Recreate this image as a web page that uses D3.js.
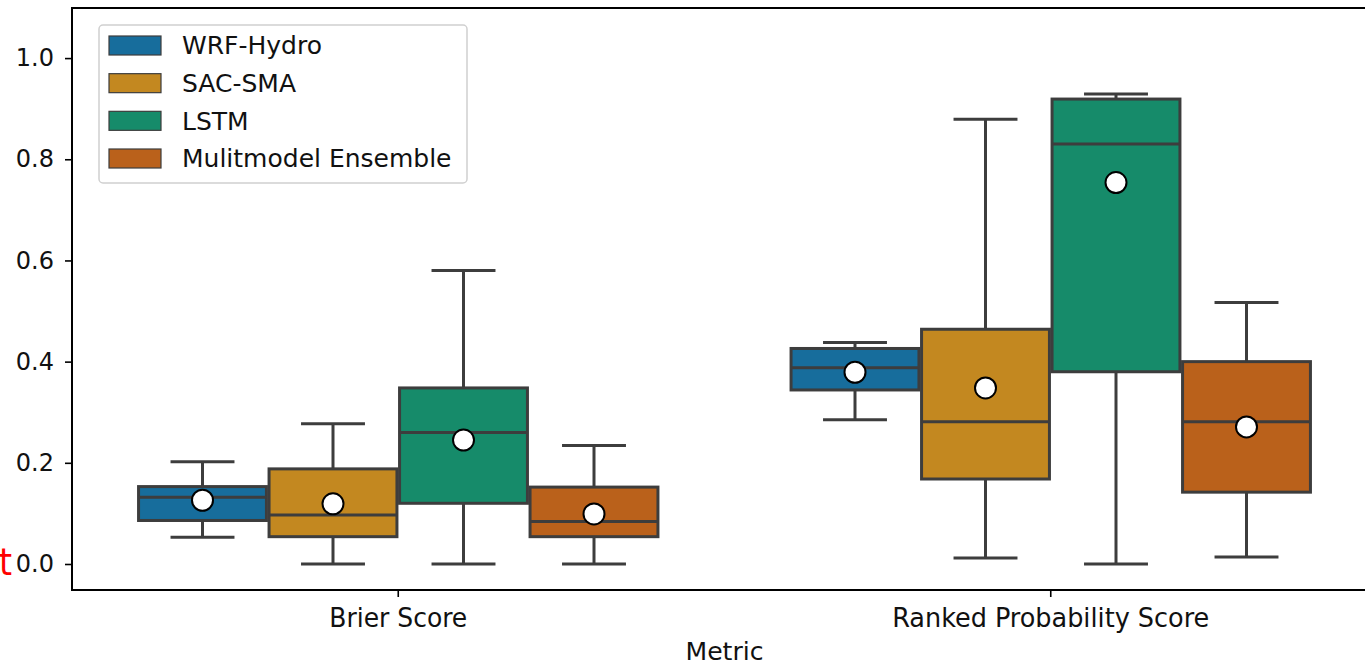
<!DOCTYPE html>
<html>
<head>
<meta charset="utf-8">
<script src="https://cdn.jsdelivr.net/npm/d3@7"></script>
<style>
  body { margin: 0; background: #fff; }
  svg { display: block; }
  text { font-family: "DejaVu Sans", sans-serif; }
</style>
</head>
<body>
<svg id="canvas"></svg>
<script>
// categories
let metrics = ["Brier Score", "Ranked Probability Score"];
let models = ["WRF-Hydro", "SAC-SMA", "LSTM", "Mulitmodel Ensemble"];
let yTicks = [0.0, 0.2, 0.4, 0.6, 0.8, 1.0];

// box stats, [metric][model]
let whiskerLow  = [[0.053, 0.000, 0.000, 0.000], [0.285, 0.012, 0.000, 0.014]];
let q1          = [[0.086, 0.054, 0.120, 0.054], [0.344, 0.168, 0.380, 0.142]];
let median      = [[0.132, 0.097, 0.260, 0.084], [0.388, 0.281, 0.830, 0.281]];
let q3          = [[0.153, 0.188, 0.348, 0.152], [0.426, 0.464, 0.919, 0.400]];
let whiskerHigh = [[0.202, 0.277, 0.580, 0.234], [0.438, 0.879, 0.929, 0.517]];
let means       = [[0.126, 0.119, 0.245, 0.099], [0.379, 0.348, 0.754, 0.271]];

let boxColors = ["#176d9c", "#c38820", "#168b6a", "#ba611b"];
let edge = "#3d3d3d";

let width = 1365, height = 666;
let plot = { left: 72, right: 1377, top: 8, bottom: 590 };

let canvas = d3.select("#canvas")
  .attr("width", width)
  .attr("height", height);

let xScale = d3.scaleBand()
  .domain(metrics)
  .range([plot.left, plot.right]);

let hueScale = d3.scaleBand()
  .domain(models)
  .range([-0.4 * xScale.bandwidth(), 0.4 * xScale.bandwidth()]);

let yScale = d3.scaleLinear()
  .domain([-0.0514, 1.099])
  .range([plot.bottom, plot.top]);

// flatten to one row per box
let boxes = [];
metrics.forEach((m, i) => {
  models.forEach((mod, j) => {
    boxes.push({
      metric: m, model: mod, color: boxColors[j],
      lo: whiskerLow[i][j], q1: q1[i][j], med: median[i][j],
      q3: q3[i][j], hi: whiskerHigh[i][j], mean: means[i][j]
    });
  });
});

let boxW = hueScale.bandwidth() * 0.98;
let center = (d) => xScale(d.metric) + xScale.bandwidth() / 2 + hueScale(d.model) + hueScale.bandwidth() / 2;

let g = canvas.selectAll("g.box")
  .data(boxes)
  .enter()
  .append("g")
  .attr("class", "box");

// whiskers
g.append("line")
  .attr("x1", center).attr("x2", center)
  .attr("y1", (d) => yScale(d.q3)).attr("y2", (d) => yScale(d.hi))
  .attr("stroke", edge).attr("stroke-width", 3);
g.append("line")
  .attr("x1", center).attr("x2", center)
  .attr("y1", (d) => yScale(d.q1)).attr("y2", (d) => yScale(d.lo))
  .attr("stroke", edge).attr("stroke-width", 3);
// caps
["hi", "lo"].forEach((k) => {
  g.append("line")
    .attr("x1", (d) => center(d) - boxW / 4).attr("x2", (d) => center(d) + boxW / 4)
    .attr("y1", (d) => yScale(d[k])).attr("y2", (d) => yScale(d[k]))
    .attr("stroke", edge).attr("stroke-width", 3);
});
// box
g.append("rect")
  .attr("x", (d) => center(d) - boxW / 2)
  .attr("width", boxW)
  .attr("y", (d) => yScale(d.q3))
  .attr("height", (d) => yScale(d.q1) - yScale(d.q3))
  .attr("fill", (d) => d.color)
  .attr("stroke", edge).attr("stroke-width", 3);
// median
g.append("line")
  .attr("x1", (d) => center(d) - boxW / 2).attr("x2", (d) => center(d) + boxW / 2)
  .attr("y1", (d) => yScale(d.med)).attr("y2", (d) => yScale(d.med))
  .attr("stroke", edge).attr("stroke-width", 3);
// mean marker
g.append("circle")
  .attr("cx", center)
  .attr("cy", (d) => yScale(d.mean))
  .attr("r", 10.5)
  .attr("fill", "#fff")
  .attr("stroke", "#000")
  .attr("stroke-width", 2);

// axes
let yAxis = d3.axisLeft(yScale)
  .tickValues(yTicks)
  .tickFormat(d3.format(".1f"))
  .tickSize(7)
  .tickPadding(11);
let yG = canvas.append("g")
  .attr("transform", "translate(" + plot.left + ",0)")
  .call(yAxis);
yG.select(".domain").remove();
yG.selectAll(".tick line").attr("stroke", "#000").attr("stroke-width", 1.6);
yG.selectAll(".tick text")
  .attr("font-size", 24).attr("fill", "#111")
  .style("font-family", "'DejaVu Sans', sans-serif");

let xAxis = d3.axisBottom(xScale).tickSize(7).tickPadding(12);
let xG = canvas.append("g")
  .attr("transform", "translate(0," + plot.bottom + ")")
  .call(xAxis);
xG.select(".domain").remove();
xG.selectAll(".tick line").attr("stroke", "#000").attr("stroke-width", 1.6);
xG.selectAll(".tick text")
  .attr("font-size", 26).attr("fill", "#111")
  .attr("textLength", (d) => d === metrics[0] ? 138 : 317)
  .attr("lengthAdjust", "spacingAndGlyphs")
  .style("font-family", "'DejaVu Sans Condensed', 'DejaVu Sans', sans-serif");

// spines
canvas.append("rect")
  .attr("x", plot.left).attr("y", plot.top)
  .attr("width", plot.right - plot.left)
  .attr("height", plot.bottom - plot.top)
  .attr("fill", "none")
  .attr("stroke", "#000").attr("stroke-width", 2);

canvas.append("text")
  .attr("x", (plot.left + plot.right) / 2)
  .attr("y", 660)
  .attr("text-anchor", "middle")
  .attr("font-size", 24)
  .attr("fill", "#111")
  .attr("textLength", 78)
  .attr("lengthAdjust", "spacingAndGlyphs")
  .style("font-family", "'DejaVu Sans Condensed', 'DejaVu Sans', sans-serif")
  .text("Metric");

// red glyph at the left edge
canvas.append("text")
  .attr("x", -1).attr("y", 575)
  .attr("text-anchor", "start")
  .attr("font-size", 37)
  .attr("fill", "#ff0000")
  .style("font-family", "'DejaVu Sans Condensed', 'DejaVu Sans', sans-serif")
  .text("t");

// legend
let legend = canvas.append("g").attr("id", "legend");
legend.append("rect")
  .attr("x", 99).attr("y", 25)
  .attr("width", 368).attr("height", 158)
  .attr("rx", 4)
  .attr("fill", "#fff").attr("fill-opacity", 0.8)
  .attr("stroke", "#d0d0d0").attr("stroke-width", 1.5);

let rowY = d3.scalePoint().domain(models).range([45.5, 158.5]);
legend.selectAll("rect.swatch")
  .data(models)
  .enter()
  .append("rect")
  .attr("class", "swatch")
  .attr("x", 109).attr("width", 52)
  .attr("y", (d) => rowY(d) - 9.5).attr("height", 19)
  .attr("fill", (d, i) => boxColors[i])
  .attr("stroke", edge).attr("stroke-width", 1.2);
legend.selectAll("text")
  .data(models)
  .enter()
  .append("text")
  .attr("x", 182)
  .attr("y", (d) => rowY(d))
  .attr("dy", "0.35em")
  .attr("font-size", 25)
  .attr("fill", "#111")
  .text((d) => d);
</script>
</body>
</html>
